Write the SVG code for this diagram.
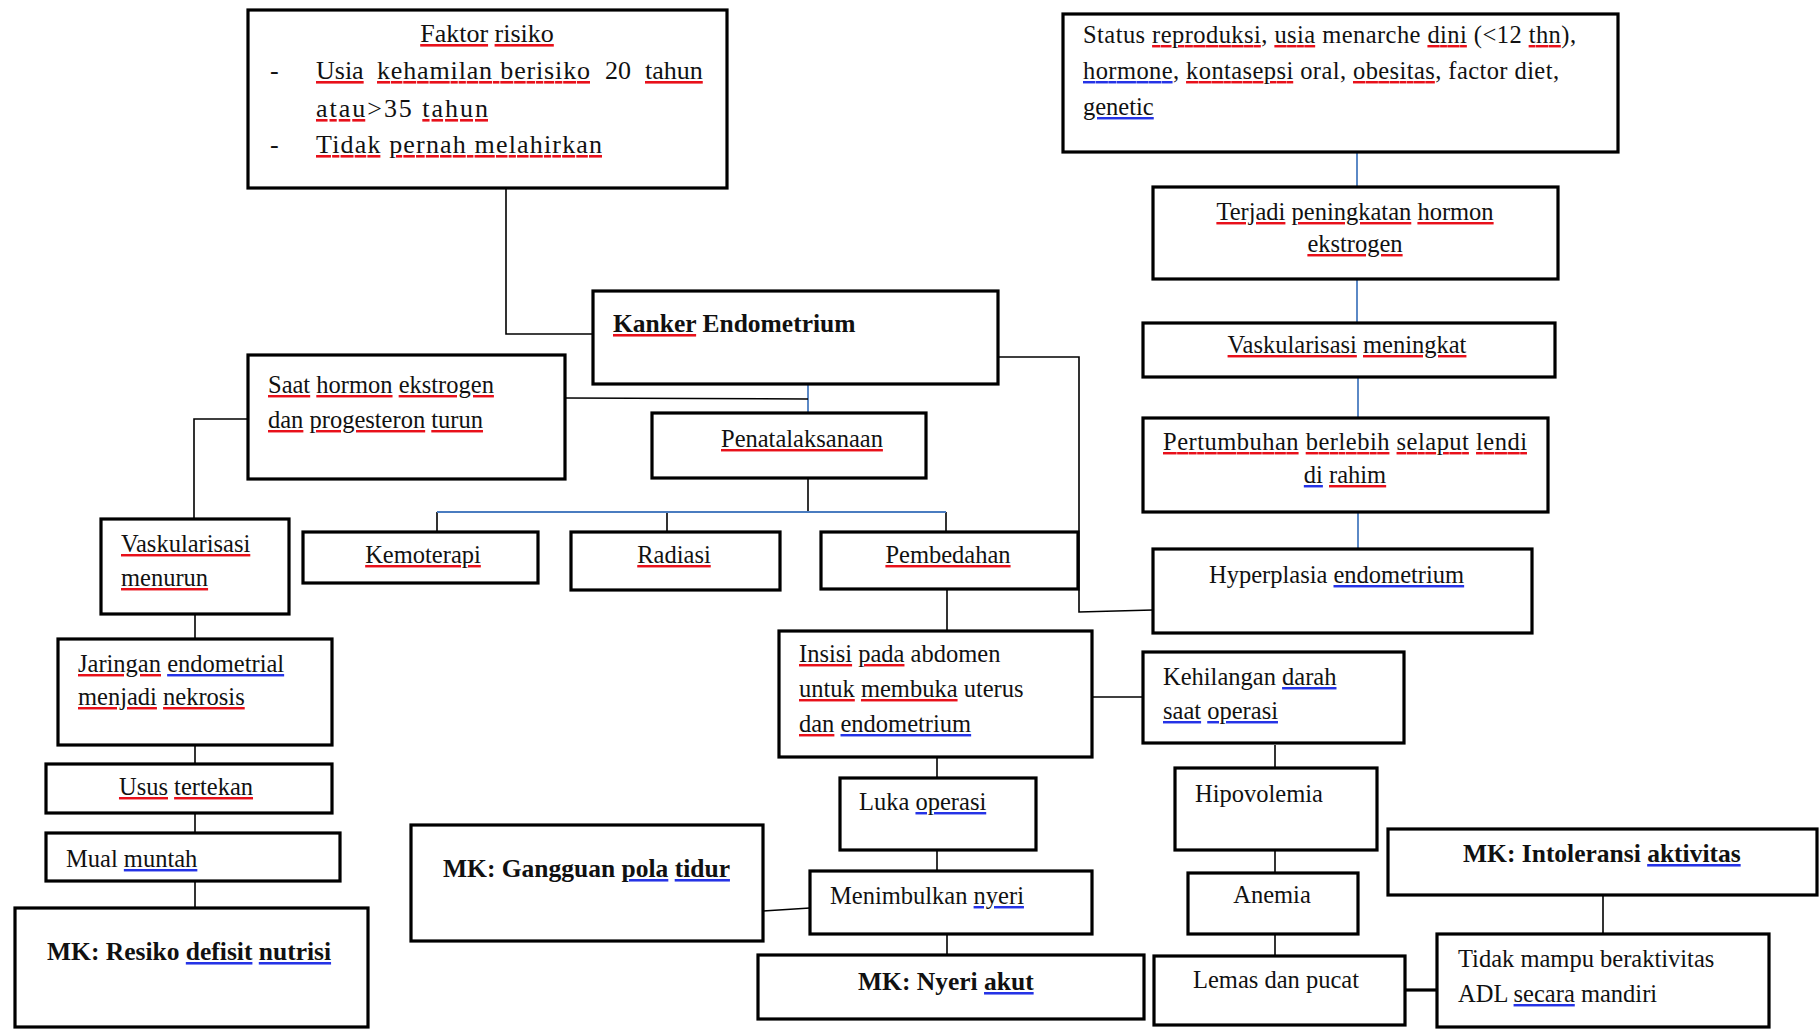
<svg xmlns="http://www.w3.org/2000/svg" width="1819" height="1029" viewBox="0 0 1819 1029">
<style>
text{font-family:"Liberation Serif","Times New Roman",serif;font-size:24.5px;fill:#111;}
.bd{font-weight:bold;font-size:25.5px;}
.fk{font-size:26px;}
.box{fill:#fff;stroke:#000;stroke-width:3.2;}
.ln{fill:none;stroke:#000;stroke-width:1.6;}
.bl{fill:none;stroke:#4a7cc0;stroke-width:1.8;}
.r{fill:#e8101a;text-decoration:underline dotted;}
.b{fill:#2533e6;text-decoration:underline dotted;}
.k{fill:#111;}
</style>
<rect width="1819" height="1029" fill="#fff"/>
<g id="connectors">
<path class="ln" d="M506 189V334H594"/>
<path class="bl" d="M1357 152V187"/>
<path class="bl" d="M1357 279V323"/>
<path class="bl" d="M1358 377V418"/>
<path class="bl" d="M1358 512V550"/>
<path class="bl" d="M808 384V413"/>
<path class="ln" d="M566 398L808 399"/>
<path class="ln" d="M248 419H194V519"/>
<path class="ln" d="M808 478V512"/>
<path class="ln" d="M437 512V532M667 512V532M946 512V532"/>
<path class="bl" d="M437 512H946"/>
<path class="ln" d="M998 357H1079V612L1153 610"/>
<path class="ln" d="M947 589V631"/>
<path class="ln" d="M1092 697H1143"/>
<path class="ln" d="M937 757V778"/>
<path class="ln" d="M937 850V871"/>
<path class="ln" d="M810 908L763 911"/>
<path class="ln" d="M947 934V955"/>
<path class="ln" d="M1275 745V768"/>
<path class="ln" d="M1275 850V873"/>
<path class="ln" d="M1275 934V956"/>
<path class="ln" d="M1405 990H1437" style="stroke-width:3.2"/>
<path class="ln" d="M1603 895V934"/>
<path class="ln" d="M195 614V639"/>
<path class="ln" d="M195 745V764"/>
<path class="ln" d="M195 813V833"/>
<path class="ln" d="M195 881V908"/>
</g>
<g id="faktor-risiko">
<rect class="box" x="248" y="10" width="479" height="178"/>
<text class="fk" x="487" y="42" text-anchor="middle"><tspan class="r"><tspan class="k">Faktor</tspan></tspan> <tspan class="r"><tspan class="k">risiko</tspan></tspan></text>
<text class="fk" x="270" y="79">-</text>
<text class="fk" y="79"><tspan x="316" class="r"><tspan class="k">Usia</tspan></tspan><tspan x="377" class="r" textLength="213"><tspan class="k">kehamilan berisiko</tspan></tspan><tspan x="605">20</tspan><tspan x="645" class="r"><tspan class="k">tahun</tspan></tspan></text>
<text class="fk" x="316" y="117" textLength="172"><tspan class="r"><tspan class="k">atau</tspan></tspan>&gt;35 <tspan class="r"><tspan class="k">tahun</tspan></tspan></text>
<text class="fk" x="270" y="153">-</text>
<text class="fk" x="316" y="153" textLength="286"><tspan class="r"><tspan class="k">Tidak</tspan></tspan> <tspan class="r"><tspan class="k">pernah melahirkan</tspan></tspan></text>
</g>
<g id="status-reproduksi">
<rect class="box" x="1063" y="14" width="555" height="138"/>
<text x="1083" y="43" textLength="493">Status <tspan class="r"><tspan class="k">reproduksi</tspan></tspan>, <tspan class="r"><tspan class="k">usia</tspan></tspan> menarche  <tspan class="r"><tspan class="k">dini</tspan></tspan> (&lt;12 <tspan class="r"><tspan class="k">thn</tspan></tspan>),</text>
<text x="1083" y="79" textLength="476"><tspan class="b"><tspan class="k">hormone</tspan></tspan>,  <tspan class="r"><tspan class="k">kontasepsi</tspan></tspan> oral, <tspan class="r"><tspan class="k">obesitas</tspan></tspan>,  factor diet,</text>
<text x="1083" y="115"><tspan class="b"><tspan class="k">genetic</tspan></tspan></text>
</g>
<g id="peningkatan-hormon">
<rect class="box" x="1153" y="187" width="405" height="92"/>
<text x="1355" y="220" text-anchor="middle"><tspan class="r"><tspan class="k">Terjadi</tspan></tspan>  <tspan class="r"><tspan class="k">peningkatan</tspan></tspan>  <tspan class="r"><tspan class="k">hormon</tspan></tspan></text>
<text x="1355" y="252" text-anchor="middle"><tspan class="r"><tspan class="k">ekstrogen</tspan></tspan></text>
</g>
<g id="vaskularisasi-meningkat">
<rect class="box" x="1143" y="323" width="412" height="54"/>
<text x="1347" y="353" text-anchor="middle"><tspan class="r"><tspan class="k">Vaskularisasi</tspan></tspan>  <tspan class="r"><tspan class="k">meningkat</tspan></tspan></text>
</g>
<g id="pertumbuhan">
<rect class="box" x="1143" y="418" width="405" height="94"/>
<text x="1163" y="450" textLength="364"><tspan class="r"><tspan class="k">Pertumbuhan</tspan></tspan>  <tspan class="r"><tspan class="k">berlebih</tspan></tspan>  <tspan class="r"><tspan class="k">selaput</tspan></tspan>  <tspan class="r"><tspan class="k">lendi</tspan></tspan></text>
<text x="1345" y="483" text-anchor="middle"><tspan class="b"><tspan class="k">di</tspan></tspan> <tspan class="r"><tspan class="k">rahim</tspan></tspan></text>
</g>
<g id="hyperplasia">
<rect class="box" x="1153" y="549" width="379" height="84"/>
<text x="1209" y="583">Hyperplasia  <tspan class="b"><tspan class="k">endometrium</tspan></tspan></text>
</g>
<g id="kanker-endometrium">
<rect class="box" x="593" y="291" width="405" height="93"/>
<text class="bd" x="613" y="332"><tspan class="r"><tspan class="k">Kanker</tspan></tspan> Endometrium</text>
</g>
<g id="saat-hormon">
<rect class="box" x="248" y="355" width="317" height="124"/>
<text x="268" y="393"><tspan class="r"><tspan class="k">Saat</tspan></tspan> <tspan class="r"><tspan class="k">hormon</tspan></tspan> <tspan class="r"><tspan class="k">ekstrogen</tspan></tspan></text>
<text x="268" y="428"><tspan class="r"><tspan class="k">dan</tspan></tspan> <tspan class="r"><tspan class="k">progesteron</tspan></tspan> <tspan class="r"><tspan class="k">turun</tspan></tspan></text>
</g>
<g id="penatalaksanaan">
<rect class="box" x="652" y="413" width="274" height="65"/>
<text x="721" y="447"><tspan class="r"><tspan class="k">Penatalaksanaan</tspan></tspan></text>
</g>
<g id="kemoterapi">
<rect class="box" x="303" y="532" width="235" height="51"/>
<text x="423" y="563" text-anchor="middle"><tspan class="r"><tspan class="k">Kemoterapi</tspan></tspan></text>
</g>
<g id="radiasi">
<rect class="box" x="571" y="532" width="209" height="58"/>
<text x="674" y="563" text-anchor="middle"><tspan class="r"><tspan class="k">Radiasi</tspan></tspan></text>
</g>
<g id="pembedahan">
<rect class="box" x="821" y="532" width="257" height="57"/>
<text x="948" y="563" text-anchor="middle"><tspan class="r"><tspan class="k">Pembedahan</tspan></tspan></text>
</g>
<g id="vaskularisasi-menurun">
<rect class="box" x="101" y="519" width="188" height="95"/>
<text x="121" y="552"><tspan class="r"><tspan class="k">Vaskularisasi</tspan></tspan></text>
<text x="121" y="586"><tspan class="r"><tspan class="k">menurun</tspan></tspan></text>
</g>
<g id="jaringan-nekrosis">
<rect class="box" x="58" y="639" width="274" height="106"/>
<text x="78" y="672"><tspan class="r"><tspan class="k">Jaringan</tspan></tspan>  <tspan class="b"><tspan class="k">endometrial</tspan></tspan></text>
<text x="78" y="705"><tspan class="r"><tspan class="k">menjadi</tspan></tspan>  <tspan class="r"><tspan class="k">nekrosis</tspan></tspan></text>
</g>
<g id="usus-tertekan">
<rect class="box" x="46" y="764" width="286" height="49"/>
<text x="186" y="795" text-anchor="middle"><tspan class="r"><tspan class="k">Usus</tspan></tspan> <tspan class="r"><tspan class="k">tertekan</tspan></tspan></text>
</g>
<g id="mual-muntah">
<rect class="box" x="46" y="833" width="294" height="48"/>
<text x="66" y="867">Mual  <tspan class="b"><tspan class="k">muntah</tspan></tspan></text>
</g>
<g id="mk-resiko-defisit-nutrisi">
<rect class="box" x="15" y="908" width="353" height="119"/>
<text class="bd" x="47" y="960">MK: Resiko  <tspan class="b"><tspan class="k">defisit</tspan></tspan> <tspan class="b"><tspan class="k">nutrisi</tspan></tspan></text>
</g>
<g id="insisi">
<rect class="box" x="779" y="631" width="313" height="126"/>
<text x="799" y="662"><tspan class="r"><tspan class="k">Insisi</tspan></tspan> <tspan class="r"><tspan class="k">pada</tspan></tspan> abdomen</text>
<text x="799" y="697"><tspan class="r"><tspan class="k">untuk</tspan></tspan> <tspan class="r"><tspan class="k">membuka</tspan></tspan>  uterus</text>
<text x="799" y="732"><tspan class="r"><tspan class="k">dan</tspan></tspan> <tspan class="b"><tspan class="k">endometrium</tspan></tspan></text>
</g>
<g id="kehilangan-darah">
<rect class="box" x="1143" y="652" width="261" height="91"/>
<text x="1163" y="685">Kehilangan  <tspan class="b"><tspan class="k">darah</tspan></tspan></text>
<text x="1163" y="719"><tspan class="b"><tspan class="k">saat</tspan></tspan> <tspan class="b"><tspan class="k">operasi</tspan></tspan></text>
</g>
<g id="luka-operasi">
<rect class="box" x="840" y="778" width="196" height="72"/>
<text x="859" y="810">Luka <tspan class="b"><tspan class="k">operasi</tspan></tspan></text>
</g>
<g id="mk-gangguan-pola-tidur">
<rect class="box" x="411" y="825" width="352" height="116"/>
<text class="bd" x="443" y="877">MK: Gangguan <tspan class="b"><tspan class="k">pola</tspan></tspan> <tspan class="b"><tspan class="k">tidur</tspan></tspan></text>
</g>
<g id="menimbulkan-nyeri">
<rect class="box" x="810" y="871" width="282" height="63"/>
<text x="830" y="904">Menimbulkan  <tspan class="b"><tspan class="k">nyeri</tspan></tspan></text>
</g>
<g id="mk-nyeri-akut">
<rect class="box" x="758" y="955" width="386" height="64"/>
<text class="bd" x="858" y="990">MK: Nyeri  <tspan class="b"><tspan class="k">akut</tspan></tspan></text>
</g>
<g id="hipovolemia">
<rect class="box" x="1175" y="768" width="202" height="82"/>
<text x="1195" y="802">Hipovolemia</text>
</g>
<g id="anemia">
<rect class="box" x="1188" y="873" width="170" height="61"/>
<text x="1272" y="903" text-anchor="middle">Anemia</text>
</g>
<g id="lemas-pucat">
<rect class="box" x="1154" y="956" width="251" height="69"/>
<text x="1193" y="988">Lemas  dan pucat</text>
</g>
<g id="mk-intoleransi-aktivitas">
<rect class="box" x="1388" y="829" width="429" height="66"/>
<text class="bd" x="1463" y="862">MK: Intoleransi <tspan class="b"><tspan class="k">aktivitas</tspan></tspan></text>
</g>
<g id="tidak-mampu">
<rect class="box" x="1437" y="934" width="332" height="93"/>
<text x="1458" y="967">Tidak  mampu beraktivitas</text>
<text x="1458" y="1002">ADL <tspan class="b"><tspan class="k">secara</tspan></tspan> mandiri</text>
</g>
</svg>
